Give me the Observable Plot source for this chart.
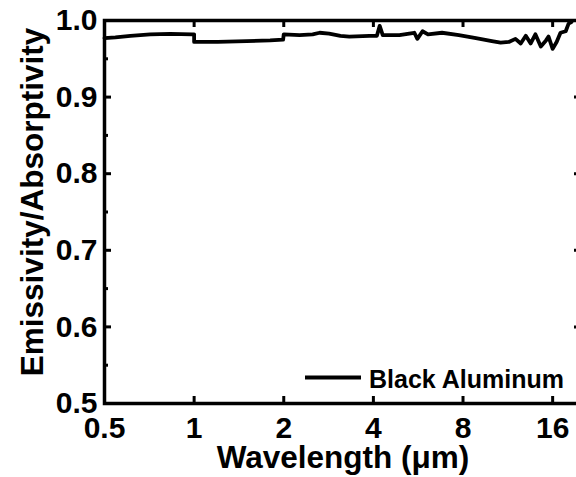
<!DOCTYPE html>
<html><head><meta charset="utf-8">
<script src="https://cdn.jsdelivr.net/npm/d3@7"></script>
<script src="https://cdn.jsdelivr.net/npm/@observablehq/plot@0.6"></script>
<style>html,body{margin:0;padding:0;background:#fff;overflow:hidden}</style>
</head><body><div id="chart"></div>
<script>
const wavelength = [0.50, 0.544, 0.611, 0.712, 0.831, 0.986, 1.0, 1.0, 1.2, 1.5, 1.8, 1.99, 2.0, 2.26, 2.5, 2.64, 2.84, 3.1, 3.32, 3.88, 4.11, 4.2, 4.3, 4.89, 5.28, 5.49, 5.62, 5.85, 6.1, 6.8, 7.75, 8.84, 10.0, 10.7, 11.4, 12.0, 12.5, 13.0, 13.5, 14.0, 14.6, 15.2, 15.5, 16.0, 16.5, 17.0, 17.7, 18.1, 18.5];
const emissivity = [0.977, 0.978, 0.980, 0.982, 0.9825, 0.982, 0.982, 0.972, 0.972, 0.973, 0.974, 0.975, 0.982, 0.981, 0.982, 0.984, 0.983, 0.980, 0.979, 0.980, 0.980, 0.993, 0.981, 0.981, 0.983, 0.984, 0.976, 0.986, 0.982, 0.984, 0.981, 0.977, 0.973, 0.971, 0.972, 0.976, 0.970, 0.980, 0.970, 0.982, 0.966, 0.974, 0.979, 0.963, 0.972, 0.984, 0.986, 0.996, 0.998];
const xTicks = [0.5, 1, 2, 4, 8, 16];
const xTickLabels = ["0.5", "1", "2", "4", "8", "16"];
const xInnerTicks = [1, 2, 4, 8, 16];
const yTicks = [0.5, 0.6, 0.7, 0.8, 0.9, 1.0];
const yTickLabels = ["0.5", "0.6", "0.7", "0.8", "0.9", "1.0"];
const yMajorInner = [0.6, 0.7, 0.8, 0.9];
const yMinor = [0.55, 0.65, 0.75, 0.85, 0.95];
const seriesName = "Black Aluminum";
const xTitle = "Wavelength (μm)";
const yTitle = "Emissivity/Absorptivity";

const W = 576, H = 477, mL = 104, mT = 20, mR = -5, mB = 74;
const innerW = W - mL - mR, innerH = H - mT - mB;
const data = wavelength.map((x, i) => ({x, y: emissivity[i]}));
const xLab = xTicks.map((v, i) => ({v, t: xTickLabels[i]}));
const yLab = yTicks.map((v, i) => ({v, t: yTickLabels[i]}));

const plot = Plot.plot({
  width: W, height: H,
  marginLeft: mL, marginTop: mT, marginRight: mR, marginBottom: mB,
  style: {fontFamily: "'Liberation Sans', Arial, sans-serif", fontWeight: "bold", fontSize: "30px", color: "#000", background: "#fff"},
  x: {type: "log", domain: [0.5, 20], label: null, axis: null},
  y: {domain: [0.5, 1.0], label: null, axis: null},
  marks: [
    Plot.line(data, {x: "x", y: "y", stroke: "#000", strokeWidth: 3.8, strokeLinejoin: "round"}),
    Plot.tickX(xInnerTicks, {x: d => d, stroke: "#000", strokeWidth: 3, insetTop: innerH - 7}),
    Plot.tickX(xInnerTicks, {x: d => d, stroke: "#000", strokeWidth: 3, insetBottom: innerH - 7}),
    Plot.tickY(yMajorInner, {y: d => d, stroke: "#000", strokeWidth: 3, insetRight: innerW - 7}),
    Plot.tickY(yMinor, {y: d => d, stroke: "#000", strokeWidth: 3, insetRight: innerW - 4}),
    Plot.tickY(yMajorInner, {y: d => d, stroke: "#000", strokeWidth: 3, insetLeft: innerW - 7}),
    Plot.frame({stroke: "#000", strokeWidth: 3.5}),
    Plot.text(xLab, {x: "v", text: "t", frameAnchor: "bottom", lineAnchor: "middle", textAnchor: "middle", dy: 24.5, fontSize: 30, fill: "#000"}),
    Plot.text(yLab, {y: "v", text: "t", frameAnchor: "left", lineAnchor: "middle", textAnchor: "end", dx: -7, fontSize: 30, fill: "#000"}),
    Plot.text([xTitle], {text: d => d, frameAnchor: "bottom", lineAnchor: "bottom", textAnchor: "middle", dy: 64, fontSize: 31.5, fill: "#000"}),
    Plot.text([yTitle], {text: d => d, frameAnchor: "left", textAnchor: "middle", lineAnchor: "middle", rotate: -90, dx: -72, dy: -10, fontSize: 31.5, fill: "#000"})
  ]
});

const svg = d3.select(plot);
const g = svg.append("g");
g.append("line").attr("x1", 305).attr("x2", 361).attr("y1", 377.5).attr("y2", 377.5)
  .attr("stroke", "#000").attr("stroke-width", 4);
g.append("text").attr("x", 369).attr("y", 387.5)
  .style("font-size", "25px").style("text-anchor", "start").style("font-weight", "bold")
  .attr("fill", "#000").text(seriesName);

document.getElementById("chart").appendChild(plot);
</script>
</body></html>
